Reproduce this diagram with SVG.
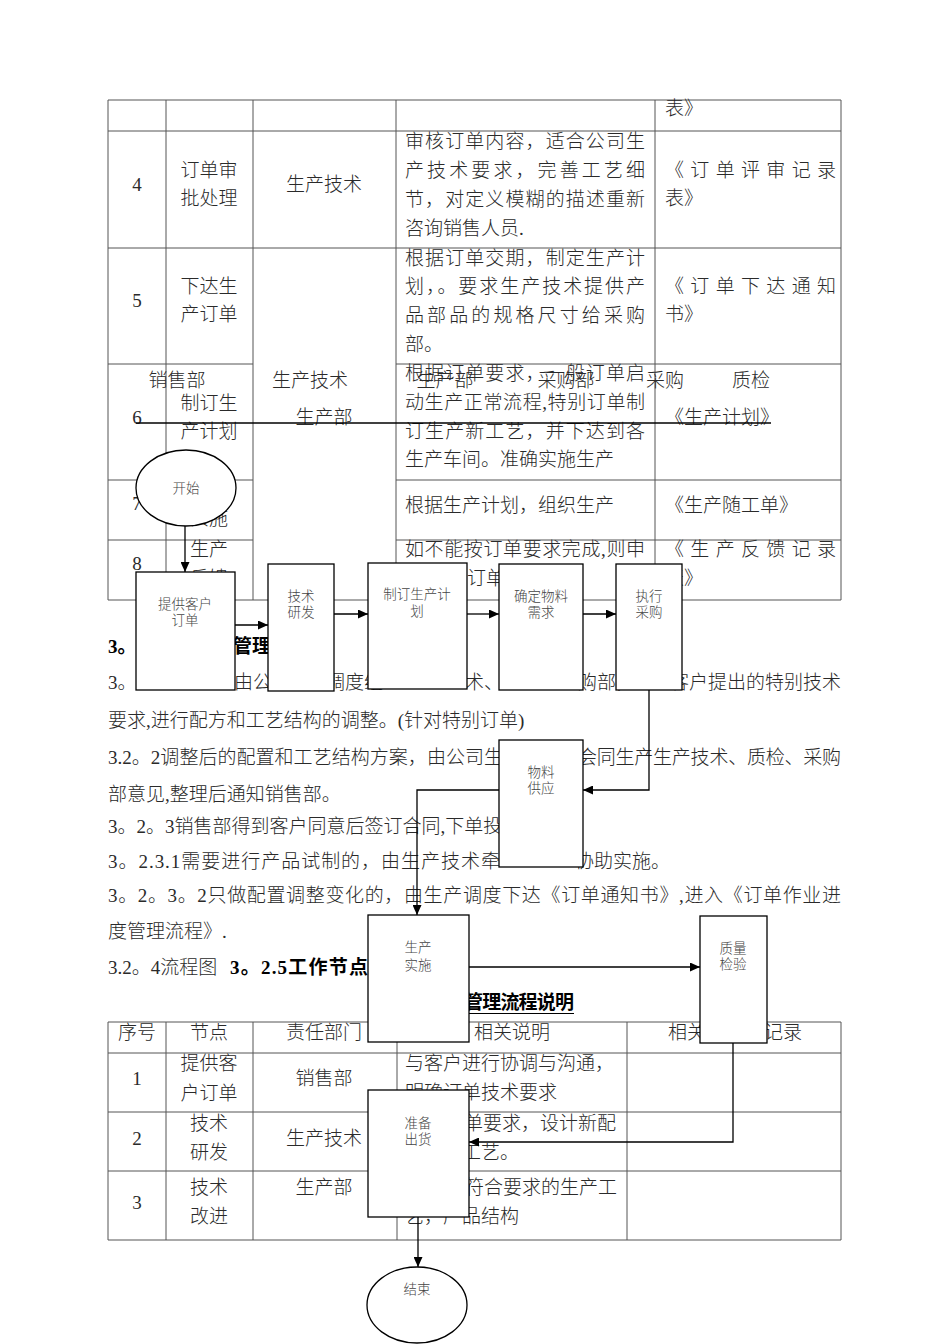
<svg xmlns="http://www.w3.org/2000/svg" width="950" height="1344" viewBox="0 0 950 1344">
<style>
.t{font-family:"Liberation Serif","Noto Sans CJK SC",serif;font-size:19px;font-weight:300;fill:#2a2a2a}
.c{text-anchor:middle}
.b{font-weight:bold;fill:#000}
.grid{stroke:#555;stroke-width:1;fill:none}
.node{fill:#fff;stroke:#000;stroke-width:1.3}
.conn{stroke:#000;stroke-width:1.3;fill:none}
.n{font-family:"Noto Sans CJK SC","Liberation Sans",sans-serif;font-size:13.5px;font-weight:300;fill:#444;text-anchor:middle}
</style>
<defs>
<marker id="ah" markerUnits="userSpaceOnUse" markerWidth="10" markerHeight="9" refX="10" refY="4.5" orient="auto">
<path d="M0,0 L10,4.5 L0,9 z" fill="#000"/>
</marker>
</defs>
<rect width="950" height="1344" fill="#fff"/>

<g id="table-top">
<path class="grid" d="M108 100H841 M108 131H841 M108 248H841 M108 364H253 M396 364H841 M108 480H253 M396 480H841 M108 540H253 M396 540H841 M108 600H841 M108 100V600 M166 100V600 M253 100V600 M396 100V600 M655 100V600 M841 100V600"/>
<g class="t">
<text x="665" y="115">表》</text>
<text class="c" x="137" y="191">4</text>
<text class="c" x="209" y="177">订单审</text>
<text class="c" x="209" y="205">批处理</text>
<text class="c" x="324" y="191">生产技术</text>
<text x="405" y="148" textLength="240" lengthAdjust="spacing">审核订单内容，适合公司生</text>
<text x="405" y="177" textLength="240" lengthAdjust="spacing">产技术要求，完善工艺细</text>
<text x="405" y="206" textLength="240" lengthAdjust="spacing">节，对定义模糊的描述重新</text>
<text x="405" y="235">咨询销售人员.</text>
<text x="665" y="177" textLength="171" lengthAdjust="spacing">《订单评审记录</text>
<text x="665" y="205">表》</text>
<text class="c" x="137" y="307">5</text>
<text class="c" x="209" y="293">下达生</text>
<text class="c" x="209" y="321">产订单</text>
<text x="405" y="265" textLength="240" lengthAdjust="spacing">根据订单交期，制定生产计</text>
<text x="405" y="293" textLength="240" lengthAdjust="spacing">划，。要求生产技术提供产</text>
<text x="405" y="322" textLength="240" lengthAdjust="spacing">品部品的规格尺寸给采购</text>
<text x="405" y="351">部。</text>
<text x="665" y="293" textLength="171" lengthAdjust="spacing">《订单下达通知</text>
<text x="665" y="321">书》</text>
<text class="c" x="137" y="424">6</text>
<text class="c" x="209" y="410">制订生</text>
<text class="c" x="209" y="438">产计划</text>
<text class="c" x="324" y="424">生产部</text>
<text x="405" y="380" textLength="240" lengthAdjust="spacing">根据订单要求，一般订单启</text>
<text x="405" y="409" textLength="240" lengthAdjust="spacing">动生产正常流程,特别订单制</text>
<text x="405" y="438" textLength="240" lengthAdjust="spacing">订生产新工艺，并下达到各</text>
<text x="405" y="466">生产车间。准确实施生产</text>
<text x="665" y="424">《生产计划》</text>
<text class="c" x="137" y="510">7</text>
<text class="c" x="209" y="525">实施</text>
<text x="405" y="512">根据生产计划，组织生产</text>
<text x="665" y="512">《生产随工单》</text>
<text class="c" x="137" y="570">8</text>
<text class="c" x="209" y="556">生产</text>
<text class="c" x="209" y="585">反馈</text>
<text x="405" y="556" textLength="240" lengthAdjust="spacing">如不能按订单要求完成,则申</text>
<text x="467" y="585">订单</text>
<text x="665" y="556" textLength="171" lengthAdjust="spacing">《生产反馈记录</text>
<text x="665" y="585">表》</text>
</g>
</g>

<g id="body-text" class="t">
<text class="b" y="653"><tspan x="108">3。</tspan><tspan x="233">管理流</tspan></text>
<text y="689"><tspan x="108">3。</tspan><tspan x="234">由公</tspan><tspan x="326">调度组</tspan><tspan x="465">术、</tspan><tspan x="578">购部，</tspan><tspan x="670">客户提出的特别技术</tspan></text>
<text x="108" y="727">要求,进行配方和工艺结构的调整。(针对特别订单)</text>
<text y="764"><tspan x="108" textLength="395" lengthAdjust="spacing">3.2。2调整后的配置和工艺结构方案，由公司生</tspan><tspan x="578" textLength="263" lengthAdjust="spacing">会同生产生产技术、质检、采购</tspan></text>
<text x="108" y="801">部意见,整理后通知销售部。</text>
<text x="108" y="833">3。2。3销售部得到客户同意后签订合同,下单投</text>
<text y="868"><tspan x="108" textLength="392" lengthAdjust="spacing">3。2.3.1需要进行产品试制的，由生产技术牵</tspan><tspan x="575">协助实施。</tspan></text>
<text x="108" y="902" textLength="733" lengthAdjust="spacing">3。2。3。2只做配置调整变化的，由生产调度下达《订单通知书》,进入《订单作业进</text>
<text x="108" y="938">度管理流程》.</text>
<text y="974"><tspan x="108">3.2。4流程图</tspan><tspan class="b" x="230" textLength="138" lengthAdjust="spacing">3。2.5工作节点</tspan></text>
<text class="b" x="464" y="1009" textLength="110" lengthAdjust="spacing">管理流程说明</text>
<path d="M464 1013.5H574" stroke="#000" stroke-width="1.2"/>
</g>

<g id="table-bottom">
<path class="grid" d="M108 1022H841 M108 1053H841 M108 1112H841 M108 1171H841 M108 1240H841 M108 1022V1240 M166 1022V1240 M253 1022V1240 M397 1022V1240 M627 1022V1240 M841 1022V1240"/>
<g class="t">
<text class="c" x="137" y="1039">序号</text>
<text class="c" x="209" y="1039">节点</text>
<text class="c" x="324" y="1039">责任部门</text>
<text class="c" x="512" y="1039">相关说明</text>
<text x="668" y="1039">相关</text>
<text x="764" y="1039">记录</text>
<text class="c" x="137" y="1085">1</text>
<text class="c" x="209" y="1070">提供客</text>
<text class="c" x="209" y="1100">户订单</text>
<text class="c" x="324" y="1085">销售部</text>
<text x="405" y="1070">与客户进行协调与沟通，</text>
<text x="405" y="1099">明确订单技术要求</text>
<text class="c" x="137" y="1145">2</text>
<text class="c" x="209" y="1130">技术</text>
<text class="c" x="209" y="1159">研发</text>
<text class="c" x="324" y="1145">生产技术</text>
<text x="464" y="1130">单要求，设计新配</text>
<text x="462" y="1159">工艺。</text>
<text class="c" x="137" y="1209">3</text>
<text class="c" x="209" y="1194">技术</text>
<text class="c" x="209" y="1223">改进</text>
<text class="c" x="324" y="1194">生产部</text>
<text x="465" y="1194">符合要求的生产工</text>
<text x="405" y="1223">艺，产品结构</text>
</g>
</g>

<g id="lanes">
<g class="t">
<text class="c" x="177" y="387">销售部</text>
<text class="c" x="310" y="387">生产技术</text>
<text class="c" x="445" y="387">生产部</text>
<text class="c" x="566" y="387">采购部</text>
<text class="c" x="665" y="387">采购</text>
<text class="c" x="751" y="387">质检</text>
</g>
<path class="conn" d="M136 423H771"/>
</g>

<g id="connectors" class="conn">
<path d="M185 526V572" marker-end="url(#ah)"/>
<path d="M235 625H268" marker-end="url(#ah)"/>
<path d="M334 614H368" marker-end="url(#ah)"/>
<path d="M467 614H499" marker-end="url(#ah)"/>
<path d="M583 614H616" marker-end="url(#ah)"/>
<path d="M649 690V790H583" marker-end="url(#ah)"/>
<path d="M499 790H417V915" marker-end="url(#ah)"/>
<path d="M469 967H700" marker-end="url(#ah)"/>
<path d="M733 1043V1142H469" marker-end="url(#ah)"/>
<path d="M418 1217V1267" marker-end="url(#ah)"/>
</g>

<g id="n-start"><ellipse class="node" cx="186" cy="488" rx="50" ry="38"/><text class="n" x="186" y="493">开始</text></g>
<g id="n-order"><rect class="node" x="136" y="572" width="99" height="118"/><text class="n" x="185" y="609">提供客户</text><text class="n" x="185" y="625">订单</text></g>
<g id="n-tech"><rect class="node" x="268" y="564" width="66" height="127"/><text class="n" x="301" y="601">技术</text><text class="n" x="301" y="617">研发</text></g>
<g id="n-plan"><rect class="node" x="368" y="563" width="99" height="126"/><text class="n" x="417" y="599">制订生产计</text><text class="n" x="417" y="616">划</text></g>
<g id="n-material"><rect class="node" x="499" y="564" width="84" height="126"/><text class="n" x="541" y="601">确定物料</text><text class="n" x="541" y="617">需求</text></g>
<g id="n-purchase"><rect class="node" x="616" y="564" width="66" height="126"/><text class="n" x="649" y="601">执行</text><text class="n" x="649" y="617">采购</text></g>
<g id="n-supply"><rect class="node" x="499" y="740" width="84" height="127"/><text class="n" x="541" y="777">物料</text><text class="n" x="541" y="793">供应</text></g>
<g id="n-produce"><rect class="node" x="368" y="915" width="101" height="127"/><text class="n" x="418" y="952">生产</text><text class="n" x="418" y="970">实施</text></g>
<g id="n-qc"><rect class="node" x="700" y="916" width="67" height="127"/><text class="n" x="733" y="953">质量</text><text class="n" x="733" y="969">检验</text></g>
<g id="n-ship"><rect class="node" x="368" y="1090" width="101" height="127"/><text class="n" x="418" y="1128">准备</text><text class="n" x="418" y="1144">出货</text></g>
<g id="n-end"><ellipse class="node" cx="417" cy="1305" rx="50" ry="38"/><text class="n" x="417" y="1294">结束</text></g>
</svg>
